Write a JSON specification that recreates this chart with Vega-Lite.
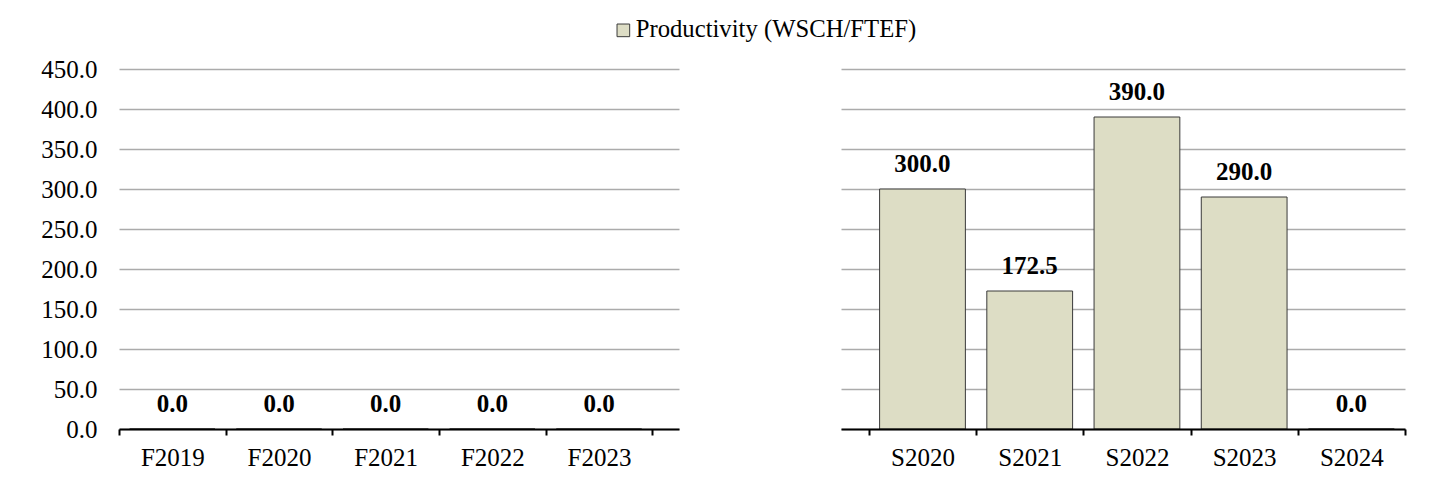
{
  "$schema": "https://vega.github.io/schema/vega-lite/v6.json",
  "background": "white",
  "padding": {"left": 40, "top": 18, "right": 5, "bottom": 5},
  "datasets": {
    "fall": [
      {"term": "F2019", "value": 0, "series": "Productivity (WSCH/FTEF)"},
      {"term": "F2020", "value": 0, "series": "Productivity (WSCH/FTEF)"},
      {"term": "F2021", "value": 0, "series": "Productivity (WSCH/FTEF)"},
      {"term": "F2022", "value": 0, "series": "Productivity (WSCH/FTEF)"},
      {"term": "F2023", "value": 0, "series": "Productivity (WSCH/FTEF)"}
    ],
    "spring": [
      {"term": "S2020", "value": 300, "series": "Productivity (WSCH/FTEF)"},
      {"term": "S2021", "value": 172.5, "series": "Productivity (WSCH/FTEF)"},
      {"term": "S2022", "value": 390, "series": "Productivity (WSCH/FTEF)"},
      {"term": "S2023", "value": 290, "series": "Productivity (WSCH/FTEF)"},
      {"term": "S2024", "value": 0, "series": "Productivity (WSCH/FTEF)"}
    ]
  },
  "spacing": 162,
  "resolve": {"legend": {"color": "shared"}},
  "hconcat": [
    {
      "data": {"name": "fall"},
      "width": 560,
      "height": 360,
      "encoding": {
        "x": {
          "field": "term", "type": "nominal", "sort": null,
          "scale": {"paddingInner": 0, "paddingOuter": 0.125, "align": 0},
          "axis": {"title": null, "labelAngle": 0, "domainColor": "#000", "domainWidth": 2, "tickColor": "#000", "tickWidth": 2, "tickSize": 6, "tickBand": "extent", "labelFontSize": 25, "labelColor": "#000", "labelPadding": 10, "zindex": 2}
        },
        "y": {
          "field": "value", "type": "quantitative",
          "scale": {"domain": [0, 450], "nice": false},
          "axis": {"title": null, "values": [0, 50, 100, 150, 200, 250, 300, 350, 400, 450], "format": ".1f", "labelFontSize": 25, "labelColor": "#000", "labelPadding": 22, "ticks": false, "domain": false, "grid": true, "gridColor": "#ABABAB", "gridWidth": 1.5}
        }
      },
      "layer": [
        {
          "mark": {"type": "bar", "width": {"band": 0.8}, "stroke": "#3A3A3A", "strokeWidth": 1},
          "encoding": {
            "color": {"field": "series", "type": "nominal", "scale": {"range": ["#DDDDC5"]}, "legend": {"title": null, "orient": "none", "legendX": 492, "legendY": -51, "labelLimit": 0, "labelFontSize": 24.7, "labelColor": "#000", "symbolType": "square", "symbolSize": 160, "symbolStrokeColor": "#3A3A3A", "symbolStrokeWidth": 1, "labelOffset": 0}}
          }
        },
        {
          "mark": {"type": "text", "baseline": "alphabetic", "dy": -17, "fontWeight": "bold", "fontSize": 25, "color": "#000"},
          "encoding": {"text": {"field": "value", "type": "quantitative", "format": ".1f"}}
        }
      ]
    },
    {
      "data": {"name": "spring"},
      "width": 564,
      "height": 360,
      "encoding": {
        "x": {
          "field": "term", "type": "nominal", "sort": null,
          "scale": {"paddingInner": 0, "paddingOuter": 0.13, "align": 1},
          "axis": {"title": null, "labelAngle": 0, "domainColor": "#000", "domainWidth": 2, "tickColor": "#000", "tickWidth": 2, "tickSize": 6, "tickBand": "extent", "labelFontSize": 25, "labelColor": "#000", "labelPadding": 10, "zindex": 2}
        },
        "y": {
          "field": "value", "type": "quantitative",
          "scale": {"domain": [0, 450], "nice": false},
          "axis": {"title": null, "values": [0, 50, 100, 150, 200, 250, 300, 350, 400, 450], "labels": false, "ticks": false, "domain": false, "grid": true, "gridColor": "#ABABAB", "gridWidth": 1.5}
        }
      },
      "layer": [
        {
          "mark": {"type": "bar", "width": {"band": 0.8}, "stroke": "#3A3A3A", "strokeWidth": 1},
          "encoding": {
            "color": {"field": "series", "type": "nominal", "scale": {"range": ["#DDDDC5"]}, "legend": {"title": null, "orient": "none", "legendX": 492, "legendY": -51, "labelLimit": 0, "labelFontSize": 24.7, "labelColor": "#000", "symbolType": "square", "symbolSize": 160, "symbolStrokeColor": "#3A3A3A", "symbolStrokeWidth": 1, "labelOffset": 0}}
          }
        },
        {
          "mark": {"type": "text", "baseline": "alphabetic", "dy": -17, "fontWeight": "bold", "fontSize": 25, "color": "#000"},
          "encoding": {"text": {"field": "value", "type": "quantitative", "format": ".1f"}}
        }
      ]
    }
  ],
  "config": {
    "font": "Liberation Serif",
    "view": {"stroke": null}
  }
}
